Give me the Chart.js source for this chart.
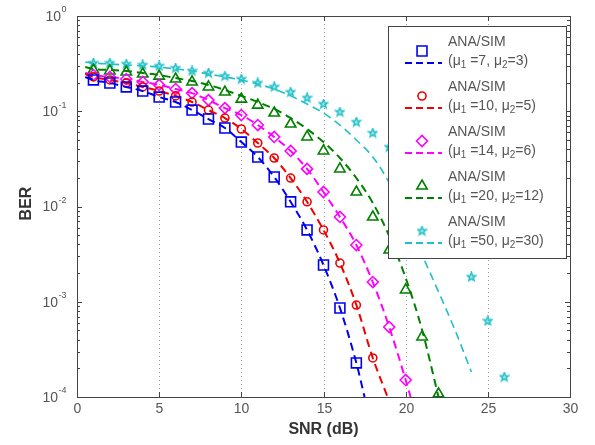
<!DOCTYPE html>
<html>
<head>
<meta charset="utf-8">
<script src="https://cdn.jsdelivr.net/npm/chart.js@4.4.0/dist/chart.umd.min.js"></script>
<style>
  html, body { margin: 0; padding: 0; background: #fff; }
  #wrap { width: 595px; height: 445px; position: relative; }
</style>
</head>
<body>
<div id="wrap"><canvas id="berChart"></canvas></div>
<script>
// ---- data (SNR in dB, BER) ----
const snrSim = [1, 2, 3, 4, 5, 6, 7, 8, 9, 10, 11, 12, 13, 14, 15, 16, 17, 18, 19, 20, 21, 22, 23, 24, 25, 26];

const berSim1 = [0.213, 0.198, 0.18, 0.163, 0.141, 0.125, 0.103, 0.0829, 0.0667, 0.0475, 0.0331, 0.0204, 0.0112, 0.00567, 0.00243, 0.00086, 0.000228];
const berSim2 = [0.229, 0.213, 0.198, 0.18, 0.163, 0.145, 0.125, 0.103, 0.0849, 0.0651, 0.0464, 0.0323, 0.0199, 0.0112, 0.00567, 0.00255, 0.000924, 0.000257];
const berSim3 = [0.240, 0.229, 0.218, 0.203, 0.189, 0.171, 0.155, 0.131, 0.108, 0.0913, 0.0717, 0.0537, 0.0383, 0.0248, 0.0142, 0.00776, 0.00394, 0.00161, 0.000543, 0.000151];
const berSim4 = [0.271, 0.265, 0.258, 0.246, 0.234, 0.218, 0.203, 0.18, 0.159, 0.134, 0.116, 0.0958, 0.0735, 0.0537, 0.0383, 0.0248, 0.0142, 0.00776, 0.00349, 0.00133, 0.000427, 0.000108];
const berSim5 = [0.321, 0.321, 0.313, 0.306, 0.299, 0.284, 0.265, 0.252, 0.234, 0.218, 0.198, 0.18, 0.159, 0.138, 0.119, 0.0982, 0.0771, 0.0591, 0.0421, 0.0308, 0.019, 0.00988, 0.00456, 0.00182, 0.000628, 0.000162];

// analytical (dashed) curves
const snrAna1 = [0.5, 1, 2, 3, 4, 5, 6, 7, 8, 9, 10, 11, 12, 13, 14, 15, 16, 17, 17.5];
const berAna1 = [0.229, 0.213, 0.198, 0.18, 0.163, 0.141, 0.125, 0.103, 0.0829, 0.0667, 0.0475, 0.0331, 0.0204, 0.0112, 0.00567, 0.00243, 0.00086, 0.000228, 0.0001];
const snrAna2 = [0.5, 1, 2, 3, 4, 5, 6, 7, 8, 9, 10, 11, 12, 13, 14, 15, 16, 17, 18, 18.9];
const berAna2 = [0.246, 0.229, 0.213, 0.198, 0.18, 0.163, 0.145, 0.125, 0.103, 0.0849, 0.0651, 0.0464, 0.0323, 0.0199, 0.0112, 0.00567, 0.00255, 0.000924, 0.000257, 0.0001];
const snrAna3 = [0.5, 1, 2, 3, 4, 5, 6, 7, 8, 9, 10, 11, 12, 13, 14, 15, 16, 17, 18, 19, 20, 20.3];
const berAna3 = [0.252, 0.240, 0.229, 0.218, 0.203, 0.189, 0.171, 0.155, 0.131, 0.108, 0.0913, 0.0717, 0.0537, 0.0383, 0.0248, 0.0142, 0.00776, 0.00394, 0.00161, 0.000543, 0.000151, 0.0001];
const snrAna4 = [0.5, 1, 2, 3, 4, 5, 6, 7, 8, 9, 10, 11, 12, 13, 14, 15, 16, 17, 18, 19, 20, 21, 22];
const berAna4 = [0.291, 0.278, 0.271, 0.265, 0.252, 0.240, 0.223, 0.208, 0.189, 0.167, 0.145, 0.125, 0.106, 0.0849, 0.0651, 0.0475, 0.0323, 0.0199, 0.0109, 0.0049, 0.00178, 0.000505, 0.0001];
const snrAna5 = [0.5, 1, 2, 3, 4, 5, 6, 7, 8, 9, 10, 11, 12, 13, 14, 15, 16, 17, 18, 19, 20, 21, 22, 23, 24];
const berAna5 = [0.329, 0.321, 0.313, 0.306, 0.299, 0.291, 0.278, 0.265, 0.246, 0.229, 0.213, 0.193, 0.171, 0.145, 0.119, 0.0958, 0.0717, 0.0499, 0.0331, 0.0177, 0.00757, 0.0031, 0.00127, 0.000505, 0.000183];

const mu1 = [7, 10, 14, 20, 50];
const mu2 = [3, 5, 6, 12, 30];
const colors = ["#0000f0", "#f00000", "#ff00ff", "#008000", "#20c0c8"];

const xTicks = [0, 5, 10, 15, 20, 25, 30];
const yExps = [0, -1, -2, -3, -4];

// pentagram marker (matlab 'p')
function makeStar(color, size) {
  const c = document.createElement("canvas");
  c.width = c.height = size;
  const g = c.getContext("2d");
  const r = size / 2 - 1, ri = r * 0.42;
  g.beginPath();
  for (let i = 0; i < 10; i++) {
    const a = -Math.PI / 2 + i * Math.PI / 5;
    const rr = i % 2 ? ri : r;
    g.lineTo(size / 2 + rr * Math.cos(a), size / 2 + rr * Math.sin(a));
  }
  g.closePath();
  g.fillStyle = "rgba(32,192,200,0.35)";
  g.fill();
  g.strokeStyle = color;
  g.lineWidth = 1.5;
  g.stroke();
  return c;
}

const markers = [
  { style: "rect", r: 7 },
  { style: "circle", r: 4 },
  { style: "rectRot", r: 5.5 },
  { style: "triangle", r: 6 },
  { style: makeStar(colors[4], 11), r: 5.5 }
];

const sims = [berSim1, berSim2, berSim3, berSim4, berSim5];
const anaX = [snrAna1, snrAna2, snrAna3, snrAna4, snrAna5];
const anaY = [berAna1, berAna2, berAna3, berAna4, berAna5];

const toPts = (xs, ys) => ys.map((v, i) => ({ x: xs[i], y: v }));

const datasets = [];
for (let i = 0; i < 5; i++) {
  datasets.push({
    data: toPts(anaX[i], anaY[i]),
    borderColor: colors[i],
    borderWidth: i === 4 ? 1.6 : 2,
    borderDash: [8, 5],
    pointRadius: 0,
    fill: false,
    cubicInterpolationMode: "monotone"
  });
  datasets.push({
    data: toPts(snrSim, sims[i]),
    showLine: false,
    borderColor: colors[i],
    pointStyle: markers[i].style,
    pointRadius: markers[i].r,
    pointBorderWidth: 1.6,
    pointBorderColor: colors[i],
    pointBackgroundColor: "rgba(0,0,0,0)",
    clip: false
  });
}

const FONT = "'Liberation Sans', Arial, sans-serif";
const TXT = "#555";

const matlabAxes = {
  id: "matlabAxes",
  beforeDatasetsDraw(chart) {
    const { ctx, chartArea: a, scales: { x } } = chart;
    ctx.save();
    ctx.strokeStyle = "#a0a0a0";
    ctx.lineWidth = 1;
    ctx.setLineDash([1, 3]);
    xTicks.forEach(v => {
      if (v <= 0 || v >= 30) return;
      const px = Math.round(x.getPixelForValue(v)) + 0.5;
      ctx.beginPath(); ctx.moveTo(px, a.top); ctx.lineTo(px, a.bottom); ctx.stroke();
    });
    ctx.restore();
  },
  afterDatasetsDraw(chart) {
    const { ctx, chartArea: a, scales: { x, y } } = chart;
    ctx.save();
    // box
    ctx.strokeStyle = "#444";
    ctx.lineWidth = 1;
    ctx.strokeRect(Math.round(a.left) + 0.5, Math.round(a.top) + 0.5, Math.round(a.right - a.left), Math.round(a.bottom - a.top));

    // x ticks (inside, bottom and top) + labels
    ctx.fillStyle = TXT;
    ctx.font = "14px " + FONT;
    ctx.textAlign = "center";
    ctx.textBaseline = "top";
    xTicks.forEach(v => {
      const px = Math.round(x.getPixelForValue(v)) + 0.5;
      ctx.beginPath();
      ctx.moveTo(px, a.bottom); ctx.lineTo(px, a.bottom - 5);
      ctx.moveTo(px, a.top); ctx.lineTo(px, a.top + 5);
      ctx.stroke();
      ctx.fillText(String(v), px, a.bottom + 5);
    });

    // y ticks: majors and minors on both sides
    yExps.forEach(e => {
      const base = Math.pow(10, e);
      for (let m = 1; m <= 9; m++) {
        if (e === 0 && m > 1) continue;
        const py = Math.round(y.getPixelForValue(m * base)) + 0.5;
        const len = m === 1 ? 5 : 3;
        ctx.beginPath();
        ctx.moveTo(a.left, py); ctx.lineTo(a.left + len, py);
        ctx.moveTo(a.right, py); ctx.lineTo(a.right - len, py);
        ctx.stroke();
      }
      // label 10^e
      const py = y.getPixelForValue(base);
      const ex = String(e);
      ctx.font = "9px " + FONT;
      const ew = ctx.measureText(ex).width;
      ctx.font = "14px " + FONT;
      const bw = ctx.measureText("10").width;
      const xr = a.left - 11;
      ctx.textAlign = "left";
      ctx.textBaseline = "middle";
      ctx.fillText("10", xr - ew - bw, py + 1);
      ctx.font = "9px " + FONT;
      ctx.fillText(ex, xr - ew + 0.5, py - 6);
    });

    // axis titles
    ctx.fillStyle = "#333";
    ctx.font = "bold 16px " + FONT;
    ctx.textAlign = "center";
    ctx.textBaseline = "middle";
    ctx.fillText("SNR (dB)", (a.left + a.right) / 2, a.bottom + 33);
    ctx.save();
    ctx.translate(27, (a.top + a.bottom) / 2 - 3);
    ctx.rotate(-Math.PI / 2);
    ctx.fillText("BER", 0, 0);
    ctx.restore();

    // legend box
    const L = 388, T = 26, R = 566, B = 258;
    ctx.fillStyle = "#fff";
    ctx.fillRect(L, T, R - L, B - T);
    ctx.strokeStyle = "#444";
    ctx.strokeRect(L + 0.5, T + 0.5, R - L, B - T);
    for (let i = 0; i < 5; i++) {
      const cy = T + 16 + 45 * i;
      ctx.save();
      ctx.strokeStyle = colors[i];
      ctx.lineWidth = 2;
      ctx.setLineDash([7, 4]);
      ctx.beginPath(); ctx.moveTo(405, cy + 21); ctx.lineTo(442, cy + 21); ctx.stroke();
      ctx.restore();
      ctx.save();
      ctx.strokeStyle = colors[i];
      ctx.fillStyle = "rgba(0,0,0,0)";
      ctx.lineWidth = 1.6;
      Chart.helpers.drawPoint(ctx, { pointStyle: markers[i].style, radius: markers[i].r, borderWidth: 1.6, rotation: 0 }, 422, cy + 9);
      ctx.restore();
      // text
      ctx.fillStyle = TXT;
      ctx.textAlign = "left";
      ctx.textBaseline = "middle";
      ctx.font = "14px " + FONT;
      ctx.fillText("ANA/SIM", 448, cy);
      const parts = [["(\u03bc", 0], ["1", 1], [" =" + mu1[i] + ", \u03bc", 0], ["2", 1], ["=" + mu2[i] + ")", 0]];
      let tx = 448;
      const ly = cy + 19;
      parts.forEach(([t, sub]) => {
        ctx.font = (sub ? "10px " : "14px ") + FONT;
        ctx.fillText(t, tx, ly + (sub ? 4 : 0));
        tx += ctx.measureText(t).width;
      });
    }
    ctx.restore();
  }
};

new Chart(document.getElementById("berChart").getContext("2d"), {
  type: "line",
  data: { datasets },
  options: {
    responsive: true,
    maintainAspectRatio: false,
    animation: false,
    events: [],
    layout: { padding: { top: 16, right: 25, left: 0, bottom: 0 } },
    plugins: { legend: { display: false }, tooltip: { enabled: false } },
    scales: {
      x: {
        type: "linear", min: 0, max: 30,
        ticks: { display: false, stepSize: 5 },
        grid: { display: false },
        border: { display: false },
        afterFit: s => { s.height = 48; }
      },
      y: {
        type: "logarithmic", min: 1e-4, max: 1,
        ticks: { display: false },
        grid: { display: false },
        border: { display: false },
        afterFit: s => { s.width = 77; }
      }
    }
  },
  plugins: [matlabAxes]
});
</script>
</body>
</html>
